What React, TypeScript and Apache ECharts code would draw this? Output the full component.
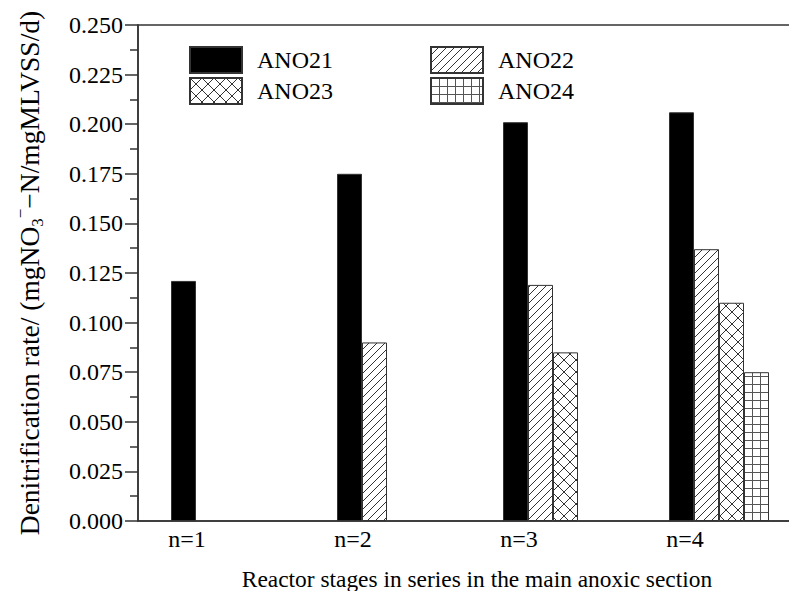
import { useEffect, useRef } from 'react';
import * as echarts from 'echarts';

// Reactor stages (categories) and the tick values used to place their labels
const stages = ['n=1', 'n=2', 'n=3', 'n=4'];
const stageTicks = [1, 2, 3, 4];

// Denitrification rate, mgNO3−-N/mgMLVSS/d
const ano21 = [0.121, 0.175, 0.201, 0.206];
const ano22 = [null, 0.09, 0.119, 0.137];
const ano23 = [null, null, 0.085, 0.11];
const ano24 = [null, null, null, 0.075];

const seriesNames = ['ANO21', 'ANO22', 'ANO23', 'ANO24'];

const FONT = 'Liberation Serif';
const AXIS = '#333';

type Kind = 'hatch' | 'cross' | 'grid';

// Small repeating tiles used as bar fills
function makePattern(kind: Kind) {
  const s = kind === 'cross' ? 12 : 8;
  const c = document.createElement('canvas');
  c.width = s;
  c.height = s;
  const g = c.getContext('2d')!;
  g.fillStyle = '#fff';
  g.fillRect(0, 0, s, s);
  g.strokeStyle = '#333';
  g.lineWidth = 1;
  const slash = () => {
    g.beginPath();
    g.moveTo(-1, 1);
    g.lineTo(1, -1);
    g.moveTo(0, s);
    g.lineTo(s, 0);
    g.moveTo(s - 1, s + 1);
    g.lineTo(s + 1, s - 1);
    g.stroke();
  };
  const backslash = () => {
    g.beginPath();
    g.moveTo(-1, -1);
    g.lineTo(s + 1, s + 1);
    g.moveTo(s - 1, -1);
    g.lineTo(s + 1, 1);
    g.moveTo(-1, s - 1);
    g.lineTo(1, s + 1);
    g.stroke();
  };
  if (kind === 'hatch') slash();
  if (kind === 'cross') {
    slash();
    backslash();
  }
  if (kind === 'grid') {
    g.strokeStyle = '#555';
    g.beginPath();
    g.moveTo(0.5, 0);
    g.lineTo(0.5, s);
    g.moveTo(0, 0.5);
    g.lineTo(s, 0.5);
    g.stroke();
  }
  return { image: c.toDataURL(), repeat: 'repeat', imageWidth: s, imageHeight: s };
}

export default function App() {
  const ref = useRef<HTMLDivElement>(null);

  useEffect(() => {
    if (!ref.current) return;
    const chart = echarts.init(ref.current, null, { renderer: 'svg' });

    const barBase = {
      type: 'bar',
      xAxisIndex: 0,
      yAxisIndex: 0,
      barWidth: 25,
      barGap: '0%',
    };

    const legendCommon = {
      orient: 'vertical',
      top: 46,
      padding: 0,
      itemWidth: 52,
      itemHeight: 26,
      itemGap: 3,
      icon: 'rect',
      textStyle: {
        fontFamily: FONT,
        fontSize: 24,
        color: '#000',
        lineHeight: 26,
        padding: [0, 0, 0, 10],
      },
    };

    chart.setOption({
      animation: false,
      backgroundColor: '#fff',
      grid: {
        left: 138,
        top: 25,
        right: -13,
        bottom: 70,
        outerBoundsMode: 'none',
        show: true,
        borderColor: AXIS,
        borderWidth: 1.5,
      },
      legend: [
        { ...legendCommon, left: 189, data: ['ANO21', 'ANO23'] },
        { ...legendCommon, left: 430, data: ['ANO22', 'ANO24'] },
      ],
      xAxis: [
        {
          type: 'category',
          data: stages,
          position: 'bottom',
          axisLine: { show: true, lineStyle: { color: AXIS, width: 1.5 } },
          axisTick: { show: false },
          axisLabel: { show: false },
          splitLine: { show: false },
          name: 'Reactor stages in series in the main anoxic section',
          nameLocation: 'middle',
          nameGap: 46,
          nameTextStyle: {
            fontFamily: FONT,
            fontSize: 23.4,
            color: '#000',
            padding: [0, 0, 0, 14],
          },
        },
        {
          type: 'value',
          min: 0.705,
          max: 4.705,
          position: 'bottom',
          axisLine: { show: false },
          axisTick: { show: false },
          splitLine: { show: false },
          axisLabel: {
            customValues: stageTicks,
            formatter: (v: number) => stages[Math.round(v) - 1] ?? '',
            fontFamily: FONT,
            fontSize: 24,
            color: '#000',
            margin: 6,
          },
        },
      ],
      yAxis: {
        type: 'value',
        min: 0,
        max: 0.25,
        interval: 0.025,
        axisLine: { show: true, lineStyle: { color: AXIS, width: 1.5 } },
        axisTick: { show: true, length: 13, lineStyle: { color: AXIS, width: 1.5 } },
        minorTick: { show: true, splitNumber: 2, length: 8, lineStyle: { color: AXIS, width: 1.5 } },
        splitLine: { show: false },
        axisLabel: {
          formatter: (v: number) => v.toFixed(3),
          fontFamily: FONT,
          fontSize: 24,
          color: '#000',
          margin: 15,
        },
        name: 'Denitrification rate/ (mgNO{sub|3}{sup|−}−N/mgMLVSS/d)',
        nameLocation: 'middle',
        nameGap: 92,
        nameTextStyle: {
          fontFamily: FONT,
          fontSize: 27.5,
          color: '#000',
          lineHeight: 34,
          rich: {
            sub: { fontFamily: FONT, fontSize: 17, color: '#000', verticalAlign: 'bottom', lineHeight: 17 },
            sup: { fontFamily: FONT, fontSize: 17, color: '#000', verticalAlign: 'top', lineHeight: 17 },
          },
        },
      },
      series: [
        {
          ...barBase,
          name: seriesNames[0],
          data: ano21,
          itemStyle: { color: '#000', borderColor: AXIS, borderWidth: 1 },
        },
        {
          ...barBase,
          name: seriesNames[1],
          data: ano22,
          itemStyle: { color: makePattern('hatch'), borderColor: AXIS, borderWidth: 1 },
        },
        {
          ...barBase,
          name: seriesNames[2],
          data: ano23,
          itemStyle: { color: makePattern('cross'), borderColor: AXIS, borderWidth: 1 },
        },
        {
          ...barBase,
          name: seriesNames[3],
          data: ano24,
          itemStyle: { color: makePattern('grid'), borderColor: AXIS, borderWidth: 1 },
        },
      ],
    });

    return () => chart.dispose();
  }, []);

  return (
    <div
      ref={ref}
      style={{ position: 'fixed', left: 0, top: 0, width: 789, height: 591 }}
    />
  );
}
